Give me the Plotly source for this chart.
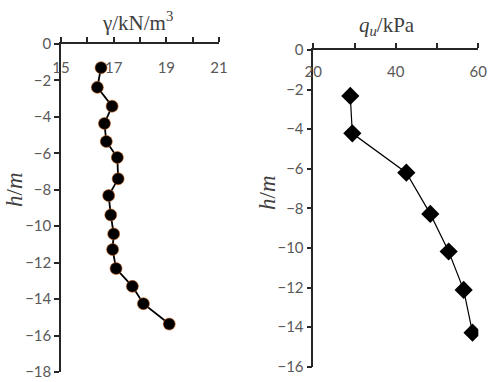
import plotly.graph_objects as go

# Left panel: unit weight vs depth
gamma = [16.52, 16.38, 16.94, 16.65, 16.72, 17.14, 17.17, 16.81, 16.89, 17.00, 16.96, 17.09, 17.71, 18.13, 19.11]
h_gamma = [-1.30, -2.38, -3.41, -4.36, -5.35, -6.23, -7.40, -8.32, -9.38, -10.42, -11.28, -12.32, -13.30, -14.25, -15.37]

# Right panel: unconfined compressive strength vs depth
qu = [28.97, 29.46, 42.55, 48.36, 52.82, 56.45, 58.6]
h_qu = [-2.32, -4.21, -6.20, -8.28, -10.18, -12.12, -14.28]

x1_ticks = [15, 16, 17, 18, 19, 20, 21]
x1_labels = [15, 17, 19, 21]
x2_ticks = [20, 30, 40, 50, 60]
x2_labels = [20, 40, 60]

W, H = 490, 382
def px(x):
    return x / W
def py(y):
    return 1 - y / H

tick_font = dict(family="Lato, Liberation Sans, sans-serif", size=15, color="#595959")
title_font = dict(family="Liberation Serif, DejaVu Serif, serif", size=21, color="#404040")
ytitle_font = dict(family="Liberation Serif, DejaVu Serif, serif", size=23, color="#404040")

fig = go.Figure()
fig.add_trace(go.Scatter(x=gamma, y=h_gamma, mode="lines+markers",
                         line=dict(color="black", width=1.8),
                         marker=dict(symbol="circle", size=12, color="black",
                                     line=dict(color="#c55a11", width=0.6)),
                         xaxis="x", yaxis="y", showlegend=False))
fig.add_trace(go.Scatter(x=qu, y=h_qu, mode="lines+markers",
                         line=dict(color="black", width=1.2),
                         marker=dict(symbol="diamond", size=14, color="black"),
                         xaxis="x2", yaxis="y2", showlegend=False))
# invisible traces so label-only axes get drawn
fig.add_trace(go.Scatter(x=[15], y=[0], mode="markers", marker=dict(opacity=0),
                         xaxis="x3", yaxis="y", showlegend=False, hoverinfo="skip"))
fig.add_trace(go.Scatter(x=[20], y=[0], mode="markers", marker=dict(opacity=0),
                         xaxis="x4", yaxis="y2", showlegend=False, hoverinfo="skip"))

axis_common = dict(showline=True, linecolor="#262626", linewidth=1.5, showgrid=False,
                   zeroline=False, ticks="outside", tickcolor="#262626", ticklen=5,
                   tickwidth=1.5, tickfont=tick_font, automargin=False)
label_axis = dict(showline=False, showgrid=False, zeroline=False, ticks="", side="bottom",
                  anchor="free", tickfont=tick_font, automargin=False)

fig.update_layout(
    width=W, height=H, margin=dict(l=0, r=0, t=0, b=0),
    paper_bgcolor="white", plot_bgcolor="white",
    xaxis=dict(domain=[px(61), px(219)], range=[15, 21], side="top", anchor="y",
               tickvals=x1_ticks, showticklabels=False, **axis_common),
    yaxis=dict(domain=[py(372), py(44)], range=[-18, 0], dtick=2, anchor="x",
               **axis_common),
    xaxis2=dict(domain=[px(313.3), px(478.3)], range=[20, 60], side="top", anchor="y2",
                tickvals=x2_ticks, showticklabels=False, **axis_common),
    yaxis2=dict(domain=[py(366.7), py(50)], range=[-16, 0], dtick=2, anchor="x2",
                **axis_common),
    xaxis3=dict(overlaying="x", range=[15, 21], tickvals=x1_labels, position=py(57),
                **label_axis),
    xaxis4=dict(overlaying="x2", range=[20, 60], tickvals=x2_labels, position=py(61),
                **label_axis),
)

fig.add_annotation(text="γ/kN/m<sup>3</sup>", x=px(137), y=py(21), xref="paper", yref="paper",
                   showarrow=False, font=title_font, xanchor="center", yanchor="middle")
fig.add_annotation(text="<i>q<sub>u</sub></i>/kPa", x=px(387), y=py(26), xref="paper", yref="paper",
                   showarrow=False, font=title_font, xanchor="center", yanchor="middle")
fig.add_annotation(text="<i>h</i>/<i>m</i>", x=px(14), y=py(190), xref="paper", yref="paper",
                   showarrow=False, font=ytitle_font, textangle=-90, xanchor="center", yanchor="middle")
fig.add_annotation(text="<i>h</i>/<i>m</i>", x=px(268), y=py(193), xref="paper", yref="paper",
                   showarrow=False, font=ytitle_font, textangle=-90, xanchor="center", yanchor="middle")

fig.write_html("out.html")
